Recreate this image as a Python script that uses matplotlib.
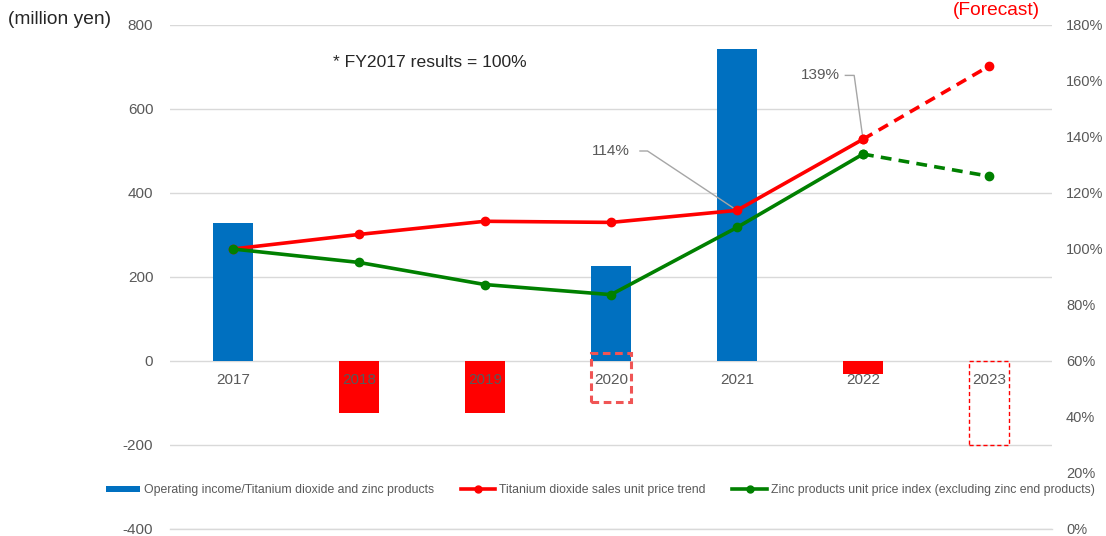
import matplotlib.pyplot as plt
from matplotlib.patches import Rectangle, Patch
from matplotlib.lines import Line2D

plt.rcParams['font.family'] = ['Liberation Sans', 'DejaVu Sans']
plt.rcParams['axes.unicode_minus'] = False

# data
years = ['2017', '2018', '2019', '2020', '2021', '2022', '2023']
income = [328, -124, -124, 226, 743, -31, None]       # million yen, 2023 is forecast box
titanium = [100, 105.2, 109.9, 109.5, 113.8, 139.2, 165.3]   # % of FY2017
zinc = [100, 95.2, 87.3, 83.7, 107.7, 133.9, 126.0]
forecast_income = -200

blue = '#0070C0'
red = '#FF0000'
green = '#008000'
gray = '#595959'
grid = '#D9D9D9'

fig = plt.figure(figsize=(11.06, 5.36), dpi=100)
ax = fig.add_axes([170 / 1106, 1 - 529 / 536, (1052 - 170) / 1106, (529 - 25) / 536])
ax2 = ax.twinx()

x = list(range(len(years)))
bw = 0.32

# bars
for i, v in enumerate(income):
    if v is None:
        continue
    ax.bar(i, v, width=bw, color=blue if v >= 0 else red, zorder=2)

# forecast box 2023 (thin dashed)
ax.add_patch(Rectangle((6 - bw / 2, forecast_income), bw, -forecast_income, fill=False,
                       edgecolor=red, linestyle=(0, (3, 2)), linewidth=1.0, zorder=3))
# highlight box 2020 (thick dashed)
ax.add_patch(Rectangle((3 - bw / 2, -98), bw, 117, fill=False,
                       edgecolor='#F05555', linestyle=(0, (2.5, 1.5)), linewidth=2.2, zorder=4))

ax.set_xlim(-0.5, 6.5)
ax.set_ylim(-400, 800)
ax.set_yticks(range(-400, 801, 200))
ax.grid(axis='y', color=grid, linewidth=1.0, zorder=0)
ax.axhline(-400, color=grid, linewidth=1.0, clip_on=False, zorder=0)
ax.set_axisbelow(True)
ax.set_xticks([])
for s in ax.spines.values():
    s.set_visible(False)
ax.tick_params(axis='y', length=0, pad=12, labelsize=11, labelcolor=gray)

# category labels along the zero line
for i, y in enumerate(years):
    ax.text(i, -45, y, ha='center', va='center', fontsize=11, color=gray, zorder=5)

# lines on the right axis
ax2.plot(x[:6], titanium[:6], color=red, lw=2.6, marker='o', ms=6, zorder=3)
ax2.plot(x[5:], titanium[5:], color=red, lw=2.6, ls=(0, (3, 2)), marker='o', ms=6, zorder=3)
ax2.plot(x[:6], zinc[:6], color=green, lw=2.6, marker='o', ms=6, zorder=4)
ax2.plot(x[5:], zinc[5:], color=green, lw=2.6, ls=(0, (3, 2)), marker='o', ms=6, zorder=4)

ax2.set_ylim(0, 180)
ax2.set_yticks(range(0, 181, 20))
ax2.set_yticklabels([f'{t}%' for t in range(0, 181, 20)])
for s in ax2.spines.values():
    s.set_visible(False)
ax2.tick_params(axis='y', length=0, pad=10, labelsize=10.5, labelcolor=gray)

# callouts
ax2.plot([3.23, 3.29, 4.0], [135, 135, titanium[4]], color='#A6A6A6', lw=1, zorder=2)
ax2.text(3.0, 135, '114%', ha='center', va='center', fontsize=11, color=gray)
ax2.plot([4.86, 4.93, 5.0], [162, 162, titanium[5]], color='#A6A6A6', lw=1, zorder=2)
ax2.text(4.66, 162, '139%', ha='center', va='center', fontsize=11, color=gray)

fig.text(430 / 1106, 1 - 62 / 536, '* FY2017 results = 100%', ha='center', va='center',
         fontsize=12.6, color='#262626')
fig.text(8 / 1106, 1 - 20 / 536, '(million yen)', ha='left', va='center', fontsize=13.8, color='#262626')
fig.text(996 / 1106, 1 - 2 / 536, '(Forecast)', ha='center', va='top', fontsize=13.8, color=red)

handles = [
    Patch(facecolor=blue),
    Line2D([], [], color=red, lw=2.6, marker='o', ms=5),
    Line2D([], [], color=green, lw=2.6, marker='o', ms=5),
]
labels = ['Operating income/Titanium dioxide and zinc products',
          'Titanium dioxide sales unit price trend',
          'Zinc products unit price index (excluding zinc end products)']
fig.legend(handles, labels, loc='center', bbox_to_anchor=(600 / 1106, 1 - 490 / 536), ncol=3,
           frameon=False, fontsize=8.85, labelcolor=gray, handlelength=2.8, handleheight=0.4,
           handletextpad=0.3, columnspacing=2.2)

fig.savefig('out.png', dpi=100)
